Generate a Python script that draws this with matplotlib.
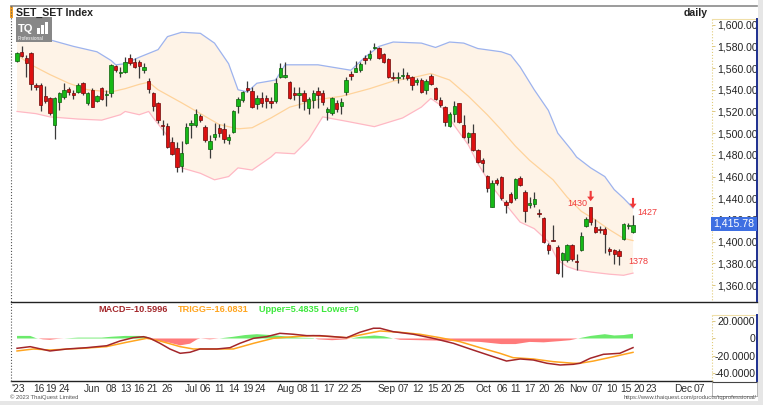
import numpy as np
import matplotlib
matplotlib.use("Agg")
import matplotlib.pyplot as plt
from matplotlib.patches import Rectangle, FancyArrow
from matplotlib.lines import Line2D

plt.rcParams['font.family'] = ['Liberation Sans', 'DejaVu Sans']

# daily candles, 10 May 2023 .. 20 Nov 2023 (132 trading days)
opens = [1566.8, 1574.5, 1569.0, 1574.2, 1544.4, 1544.4, 1534.3, 1532.1, 1507.5, 1529.0,
         1533.7, 1540.4, 1536.7, 1538.3, 1546.0, 1528.1, 1539.8, 1529.7, 1541.3, 1534.9,
         1536.7, 1561.9, 1555.2, 1556.7, 1569.0, 1565.9, 1565.9, 1558.2, 1548.4, 1537.3,
         1527.5, 1507.5, 1506.8, 1492.0, 1486.0, 1470.0, 1491.2, 1507.5, 1507.5, 1515.8,
         1506.0, 1485.4, 1496.2, 1505.1, 1503.5, 1493.7, 1500.8, 1525.0, 1530.6, 1541.3,
         1538.9, 1526.9, 1532.1, 1532.1, 1530.0, 1530.0, 1552.1, 1552.1, 1547.5, 1536.7,
         1535.2, 1537.3, 1522.9, 1530.6, 1538.9, 1536.7, 1519.2, 1518.3, 1528.1, 1525.4,
         1537.6, 1554.2, 1556.7, 1558.2, 1569.6, 1569.6, 1578.2, 1578.8, 1572.7, 1568.4,
         1552.1, 1551.2, 1552.4, 1553.6, 1552.1, 1547.5, 1549.0, 1539.8, 1553.0, 1542.0,
         1530.6, 1524.4, 1506.9, 1517.4, 1527.5, 1507.5, 1496.8, 1499.9, 1484.5, 1475.3,
         1460.8, 1432.3, 1456.8, 1459.9, 1436.9, 1443.6, 1440.0, 1458.4, 1446.1, 1433.8,
         1434.7, 1426.7, 1421.5, 1396.9, 1401.5, 1395.4, 1383.1, 1383.1, 1396.9, 1381.6,
         1392.3, 1414.4, 1431.6, 1413.8, 1411.7, 1411.4, 1393.2, 1392.3, 1391.4, 1402.1,
         1414.4, 1409.2]
highs = [1575.1, 1580.4, 1572.0, 1574.5, 1546.6, 1546.6, 1543.5, 1533.7, 1533.7, 1538.3,
         1546.0, 1542.9, 1539.8, 1546.6, 1547.5, 1538.3, 1541.3, 1535.2, 1542.9, 1539.8,
         1563.8, 1563.2, 1561.3, 1570.5, 1573.0, 1569.0, 1567.5, 1564.4, 1550.6, 1538.3,
         1529.0, 1512.2, 1509.5, 1496.0, 1492.2, 1492.8, 1509.1, 1512.1, 1522.3, 1517.4,
         1507.5, 1498.3, 1509.1, 1508.1, 1509.1, 1498.9, 1521.4, 1533.7, 1538.9, 1548.1,
         1542.9, 1535.2, 1538.3, 1535.2, 1533.7, 1551.2, 1564.4, 1565.3, 1548.1, 1542.9,
         1542.9, 1539.8, 1533.7, 1539.8, 1542.9, 1539.8, 1524.4, 1533.7, 1530.6, 1532.1,
         1552.1, 1557.3, 1566.5, 1565.9, 1572.1, 1576.7, 1582.8, 1579.7, 1573.6, 1569.0,
         1556.7, 1556.7, 1560.4, 1556.7, 1553.0, 1551.2, 1550.6, 1549.9, 1554.2, 1542.9,
         1533.7, 1525.4, 1519.8, 1529.7, 1528.1, 1516.7, 1501.4, 1508.1, 1485.4, 1476.8,
         1461.4, 1456.8, 1458.4, 1460.5, 1438.4, 1446.1, 1458.4, 1460.5, 1447.6, 1441.5,
         1446.1, 1429.8, 1423.0, 1398.5, 1415.4, 1396.9, 1390.8, 1397.5, 1397.8, 1388.6,
         1409.2, 1423.0, 1430.0, 1420.6, 1414.4, 1413.2, 1395.4, 1392.9, 1392.9, 1417.5,
         1417.5, 1425.0]
lows = [1565.9, 1570.5, 1551.5, 1539.8, 1539.8, 1520.8, 1527.5, 1516.8, 1494.3, 1521.4,
        1531.2, 1535.2, 1531.2, 1537.3, 1535.2, 1526.0, 1523.8, 1529.0, 1530.6, 1525.4,
        1533.7, 1556.7, 1552.1, 1555.8, 1562.9, 1559.8, 1550.6, 1555.2, 1536.7, 1520.8,
        1509.1, 1498.3, 1486.5, 1480.0, 1464.5, 1464.5, 1489.7, 1495.2, 1505.7, 1510.0,
        1492.2, 1477.4, 1493.7, 1496.8, 1490.6, 1489.7, 1499.9, 1518.3, 1529.0, 1537.6,
        1523.5, 1522.3, 1524.4, 1522.9, 1522.9, 1527.5, 1550.6, 1550.6, 1531.5, 1530.6,
        1522.9, 1521.4, 1517.4, 1522.9, 1523.5, 1526.0, 1512.1, 1516.7, 1519.2, 1517.4,
        1535.2, 1549.0, 1556.1, 1556.7, 1563.5, 1567.5, 1577.6, 1568.4, 1564.4, 1551.2,
        1549.0, 1545.9, 1549.6, 1549.0, 1539.8, 1544.4, 1536.7, 1535.8, 1544.4, 1530.6,
        1524.4, 1506.9, 1506.0, 1510.0, 1509.1, 1495.2, 1490.6, 1483.6, 1472.2, 1463.9,
        1445.5, 1431.6, 1452.2, 1438.4, 1426.1, 1435.3, 1438.4, 1451.3, 1418.4, 1430.7,
        1432.3, 1423.0, 1398.5, 1388.6, 1400.9, 1370.2, 1367.7, 1381.6, 1382.5, 1373.9,
        1391.7, 1413.2, 1415.4, 1408.3, 1407.7, 1389.2, 1387.7, 1379.4, 1378.5, 1401.5,
        1411.4, 1408.3]
closes = [1573.6, 1571.5, 1565.0, 1545.0, 1542.9, 1526.0, 1530.0, 1518.3, 1532.1, 1537.3,
          1539.8, 1538.3, 1535.2, 1544.4, 1537.3, 1536.7, 1524.4, 1534.3, 1531.2, 1536.1,
          1562.9, 1558.2, 1556.7, 1565.9, 1565.0, 1561.3, 1562.2, 1560.7, 1540.4, 1525.1,
          1512.2, 1506.6, 1487.6, 1480.6, 1469.1, 1481.4, 1505.4, 1509.1, 1517.7, 1512.1,
          1493.7, 1492.8, 1499.2, 1499.9, 1494.6, 1496.2, 1520.4, 1531.2, 1538.3, 1539.8,
          1524.4, 1532.1, 1527.5, 1529.7, 1528.1, 1545.9, 1559.8, 1553.6, 1532.1, 1535.2,
          1536.7, 1530.0, 1531.2, 1536.7, 1535.2, 1529.0, 1522.3, 1532.1, 1522.3, 1529.0,
          1549.0, 1553.0, 1560.4, 1563.8, 1567.1, 1572.7, 1579.7, 1569.6, 1565.3, 1552.1,
          1551.2, 1552.1, 1553.6, 1551.2, 1544.4, 1549.0, 1538.3, 1548.1, 1545.6, 1531.5,
          1526.0, 1510.6, 1517.4, 1525.4, 1510.0, 1496.8, 1499.9, 1484.5, 1473.7, 1472.2,
          1449.1, 1453.8, 1453.8, 1440.0, 1433.8, 1436.9, 1457.5, 1452.2, 1428.6, 1435.3,
          1439.0, 1425.2, 1400.0, 1392.3, 1401.0, 1371.4, 1389.2, 1396.9, 1383.7, 1381.0,
          1405.2, 1420.6, 1418.4, 1409.2, 1411.2, 1407.1, 1391.4, 1388.6, 1386.8, 1416.3,
          1414.9, 1415.78]

# bollinger bands, read at points along the curves (x = bar number)
up_idx = [0, 7, 12, 17, 20, 21, 23, 26, 30, 32, 35, 39, 42, 45, 47, 49, 51, 55, 57, 64, 71,
          74, 77, 80, 86, 89, 92, 95, 98, 103, 105, 107, 110, 113, 115, 118, 119, 122, 125,
          127, 129, 131]
up_val = [1592, 1586, 1580, 1575, 1567, 1563, 1564, 1570, 1577, 1589, 1593, 1592, 1583, 1564,
          1540, 1538, 1546, 1549, 1563, 1563, 1558, 1570, 1580, 1584, 1583, 1579, 1584, 1583,
          1578, 1575, 1572, 1561, 1540, 1521, 1500, 1484, 1478, 1468, 1460, 1448, 1440, 1431]
mid_idx = [0, 3, 7, 11, 15, 20, 23, 26, 28, 30, 35, 39, 43, 47, 50, 54, 58, 64, 69, 75, 80,
           85, 88, 92, 96, 100, 103, 106, 109, 114, 117, 120, 123, 126, 129, 131]
mid_val = [1572, 1563, 1554, 1546, 1540, 1538, 1541, 1545, 1547, 1540, 1528, 1518, 1508, 1504,
           1505, 1514, 1524, 1531, 1534, 1541, 1548, 1552, 1555, 1549, 1534, 1517, 1503, 1488,
           1475, 1457, 1441, 1428, 1420, 1411, 1403, 1401]
lo_idx = [0, 4, 7, 13, 18, 22, 23, 26, 28, 29, 31, 34, 35, 39, 42, 45, 47, 50, 54, 55, 59, 62,
          65, 70, 76, 82, 86, 88, 90, 93, 96, 98, 101, 104, 107, 110, 113, 115, 117, 119, 122,
          126, 129, 131]
lo_val = [1520, 1518, 1515, 1513, 1512, 1517, 1520, 1517, 1520, 1514, 1503, 1485, 1468, 1463,
          1457, 1460, 1468, 1466, 1478, 1482, 1481, 1494, 1515, 1511, 1506, 1514, 1524, 1532,
          1526, 1507, 1489, 1472, 1451, 1434, 1418, 1412, 1400, 1383, 1377, 1374, 1372, 1370,
          1369, 1371]

# MACD panel
macd_idx = [0, 2.8, 7, 10.6, 14.8, 19.1, 21.9, 24.7, 26.9, 28.3, 30.4, 32.5, 34.7, 36.8, 38.9,
            42.5, 45.3, 47.4, 50.3, 53.1, 55.9, 58.8, 61.6, 64.4, 67.3, 70.1, 72.9, 75.8, 77.2,
            80, 84.3, 88.5, 92.8, 97, 101.3, 104.1, 107, 109.8, 112.7, 115.5, 118.3, 119.7,
            121.9, 124.7, 128.2, 131]
macd_val = [-11.4, -9.5, -14.5, -12.2, -10.7, -8.4, -2.9, 0.9, 2.1, 0.2, -5.6, -12.2, -17.2,
            -16.0, -12.2, -12.2, -10.7, -5.6, 0.2, 2.1, 6.0, 4.9, 3.3, 3.3, 2.1, 0.9, 7.2, 11.9,
            11.9, 7.9, 4.9, 0.2, -5.6, -13.4, -21.2, -26.2, -23.8, -25.0, -28.8, -30.8, -30.0,
            -28.8, -23.0, -18.4, -17.2, -10.6]
trig_idx = [0, 3.5, 7, 14, 19, 23.3, 27.6, 30.4, 34.7, 37.5, 41.8, 46, 50.3, 54.5, 58.8, 63,
            67.3, 70.1, 72.9, 75.8, 77.2, 81.5, 85.7, 90, 94.2, 98.5, 102.7, 105.5, 109.8, 114,
            118.3, 119.7, 122.6, 126.8, 131]
trig_val = [-14.5, -12.2, -13.4, -11.4, -9.5, -4.4, 0.2, -2.9, -9.5, -12.2, -12.2, -12.2, -5.6,
            0.2, 2.1, 3.3, 2.1, 0.9, 4.0, 7.2, 8.7, 7.2, 4.9, 0.9, -3.7, -10.7, -17.2, -22.3,
            -23.8, -26.9, -28.8, -28.8, -26.2, -21.2, -16.1]
hist_idx = [0, 2.8, 4, 5.5, 7, 8.5, 10, 13, 18, 20, 23, 26, 27.6, 28.3, 30.4, 32.5, 34.7, 36.8,
            38.3, 39, 41, 43, 46, 48.5, 51, 54, 58, 60, 63, 64, 67, 70, 71, 73, 76, 78, 80,
            81.5, 85.7, 90, 94, 98.5, 103, 106, 109, 112, 115.5, 117.6, 119.3, 122, 125, 127,
            129, 131]
hist_val = [3, 3, 0.5, -1, -1.5, -0.5, 0, 1, 1, 2, 3, 3, 2, 0, -3, -5, -8, -6, -1, 0, -1, 0, 2,
            4, 5, 4, 2, 1, 0.5, -1, -2, -1, 0, 2, 3.5, 2.5, 0, -1.5, -2, -2.5, -3, -4, -6.5,
            -6.5, -4, -4.5, -3, -2, 0, 3, 5, 3.5, 4, 5.5]

# x axis labels (bar number where the label starts)
tick_pos = [-1.2, 3.4, 6.1, 8.9, 14.2, 18.9, 21.9, 24.7, 27.6, 30.8, 35.7, 38.9, 41.9, 44.9,
            47.9, 50.6, 55.3, 59.4, 62.1, 65.1, 68.1, 70.9, 76.6, 81, 84, 87.2, 90, 92.9, 97.6,
            101.9, 104.8, 107.8, 110.8, 114, 117.4, 122.1, 125.3, 128.2, 131, 133.6, 139.8,
            143.9]
tick_txt = ["'23", "16", "19", "24", "Jun", "08", "13", "16", "21", "26", "Jul", "06", "11",
            "14", "19", "24", "Aug", "08", "11", "17", "22", "25", "Sep", "07", "12", "15",
            "20", "25", "Oct", "06", "11", "17", "20", "26", "Nov", "07", "10", "15", "20",
            "23", "Dec", "07"]
price_ticks = [1360, 1380, 1400, 1420, 1440, 1460, 1480, 1500, 1520, 1540, 1560, 1580, 1600]
macd_ticks = [20, 0, -20, -40]
macd_tick_txt = ["20.0000", "0", "-20.0000", "-40.0000"]

W, H = 763, 405
def fx(px):
    return px / W
def fy(py):
    return 1 - py / H

fig = plt.figure(figsize=(W / 100, H / 100), dpi=100)
fig.patch.set_facecolor('white')

ax1 = fig.add_axes([fx(11), fy(301), (712 - 11) / W, (301 - 6) / H])
ax2 = fig.add_axes([fx(11), fy(381), (712 - 11) / W, (381 - 302) / H])

xlo, xhi = -1.28, 147.8
ax1.set_xlim(xlo, xhi)
ax2.set_xlim(xlo, xhi)
ax1.set_ylim(1345.3, 1617.2)
ax2.set_ylim(-49.4, 42.4)

# bands
ax1.fill(np.concatenate([up_idx, lo_idx[::-1]]), np.concatenate([up_val, lo_val[::-1]]),
         color='#FEF3E7', lw=0, zorder=1)
ax1.plot(up_idx, up_val, color='#9DB3EE', lw=0.9, zorder=2)
ax1.plot(mid_idx, mid_val, color='#FFD39B', lw=0.9, zorder=2)
ax1.plot(lo_idx, lo_val, color='#FFB8C4', lw=0.9, zorder=2)

# candles
o = np.array(opens)
c = np.array(closes)
x = np.arange(len(o))
up = c >= o
ax1.vlines(x, lows, highs, color='#3A3A3A', lw=0.9, zorder=3)
body_lo = np.minimum(o, c)
body_h = np.maximum(np.abs(c - o), 0.9)
ax1.bar(x[up], body_h[up], 0.72, bottom=body_lo[up], color='#16B816', edgecolor='#0B5E0B',
        lw=0.5, zorder=4)
ax1.bar(x[~up], body_h[~up], 0.72, bottom=body_lo[~up], color='#DD1010', edgecolor='#6E0808',
        lw=0.5, zorder=4)

# marks on the last peaks / low
red = '#F03A3A'
for ax_i, tip in [(122, 1437.3), (131, 1430.8)]:
    ax1.add_patch(FancyArrow(ax_i, tip + 9.5, 0, -9.5, width=0.45, head_width=1.5,
                             head_length=4.2, length_includes_head=True, color=red,
                             lw=0, zorder=5))
ax1.text(119.1, 1435.3, '1430', color=red, fontsize=6.5, ha='center', va='center')
ax1.text(134.1, 1427, '1427', color=red, fontsize=6.5, ha='center', va='center')
ax1.text(132.1, 1381.5, '1378', color=red, fontsize=6.5, ha='center', va='center')

# price axis
ax1.yaxis.tick_right()
ax1.set_yticks(price_ticks)
ax1.set_yticklabels(['{:,.2f}'.format(v) for v in price_ticks], fontsize=7.6, color='#222222')
ax1.tick_params(axis='y', length=2, width=0.6, color='#D8C070', pad=2)
ax1.set_xticks([])
for s in ['top', 'right', 'left', 'bottom']:
    ax1.spines[s].set_visible(False)

# MACD panel
ax2.fill_between(hist_idx, 0, hist_val, where=np.array(hist_val) >= 0, interpolate=True,
                 color='#6BEA6B', lw=0, zorder=1)
ax2.fill_between(hist_idx, 0, hist_val, where=np.array(hist_val) <= 0, interpolate=True,
                 color='#FF7A7A', lw=0, zorder=1)
ax2.plot(trig_idx, trig_val, color='#FFA51F', lw=1.1, zorder=3)
ax2.plot(macd_idx, macd_val, color='#A3262A', lw=1.1, zorder=3)

ax2.yaxis.tick_right()
ax2.set_yticks(macd_ticks)
ax2.set_yticklabels(macd_tick_txt, fontsize=7.6, color='#222222')
for lab in ax2.get_yticklabels():
    lab.set_horizontalalignment('right')
ax2.tick_params(axis='y', length=2, width=0.6, color='#D8C070', pad=29.3)
ax2.set_xticks(tick_pos)
ax2.set_xticklabels(tick_txt, fontsize=7.4, color='#333333')
for lab in ax2.get_xticklabels():
    lab.set_horizontalalignment('left')
ax2.tick_params(axis='x', length=0, pad=2.5)
for s in ['top', 'right', 'left']:
    ax2.spines[s].set_visible(False)
ax2.spines['bottom'].set_color('#222222')
ax2.spines['bottom'].set_linewidth(1.0)

# frame lines drawn in figure pixels
def hline(y, x0, x1, color, lw=1.0, ls='-'):
    fig.add_artist(Line2D([fx(x0), fx(x1)], [fy(y), fy(y)], color=color, lw=lw, ls=ls))
def vline(xp, y0, y1, color, lw=1.0, ls='-'):
    fig.add_artist(Line2D([fx(xp), fx(xp)], [fy(y0), fy(y1)], color=color, lw=lw, ls=ls))

hline(6, 11, 757, '#8A8A8A', 1.2)
hline(301.5, 11, 757, '#222222', 1.0)
vline(11, 6, 381, '#555555', 0.8, ':')
vline(712, 19, 301, '#E2CC7A', 0.8, ':')
hline(19, 712, 756, '#F0DFA8', 0.8)
vline(756.5, 19, 301, '#1D2F8F', 1.4)
vline(712, 315, 381, '#E2CC7A', 0.8, ':')
hline(315, 712, 756, '#F0DFA8', 0.8)
vline(756.5, 315, 381, '#1D2F8F', 1.4)
hline(381.5, 712, 757, '#444444', 0.8)
vline(712, 382, 396, '#AAAAAA', 0.6)
vline(757, 382, 396, '#AAAAAA', 0.6)
hline(396, 712, 757, '#AAAAAA', 0.6)

# outer grey edge
fig.add_artist(Rectangle((fx(758), 0), 5 / W, 1, transform=fig.transFigure,
                         facecolor='#E6E6E6', edgecolor='none'))
fig.add_artist(Rectangle((0, 0), 1, 4 / H, transform=fig.transFigure,
                         facecolor='#E6E6E6', edgecolor='none'))

# title, logo
fig.add_artist(Rectangle((fx(10), fy(18)), 2.5 / W, 12 / H, transform=fig.transFigure,
                         facecolor='#F5A22A', edgecolor='none'))
fig.text(fx(16), fy(13), 'SET_SET Index', fontsize=7.6, fontweight='bold', color='#222222',
         va='center', ha='left')
fig.text(fx(708), fy(13), 'daily', fontsize=7.6, fontweight='bold', color='#222222',
         va='center', ha='right')
fig.add_artist(Rectangle((fx(16), fy(42)), 36 / W, 25 / H, transform=fig.transFigure,
                         facecolor='#878787', edgecolor='none'))
fig.text(fx(18), fy(29), 'TQ', fontsize=8, fontweight='bold', color='white', va='center',
         ha='left')
for bx, bh in [(37, 6), (41, 9), (45, 12)]:
    fig.add_artist(Rectangle((fx(bx), fy(34)), 3 / W, bh / H, transform=fig.transFigure,
                             facecolor='white', edgecolor='none'))
fig.text(fx(18), fy(39), 'Professional', fontsize=3.3, color='white', va='center', ha='left')

# last price tag
fig.text(fx(713.5), fy(224), '1,415.78', fontsize=7.6, color='white', va='center', ha='left',
         bbox=dict(boxstyle='square,pad=0.22', facecolor='#3E6FE2', edgecolor='none'))

# MACD legend
fig.text(fx(98), fy(309), 'MACD=-10.5996', fontsize=6.6, fontweight='bold', color='#A3262A',
         va='center', ha='left')
fig.text(fx(178), fy(309), 'TRIGG=-16.0831', fontsize=6.6, fontweight='bold', color='#FFA51F',
         va='center', ha='left')
fig.text(fx(259), fy(309), 'Upper=5.4835 Lower=0', fontsize=6.6, fontweight='bold',
         color='#3DE83D', va='center', ha='left')

# footer
fig.text(fx(10), fy(397.5), '\u00a9 2023 ThaiQuest Limited', fontsize=4.2, color='#555555',
         va='center', ha='left')
fig.text(fx(757), fy(397.5), 'https://www.thaiquest.com/products/tqprofessional/', fontsize=4.2,
         color='#555555', va='center', ha='right')

fig.savefig('out.png', dpi=100)
